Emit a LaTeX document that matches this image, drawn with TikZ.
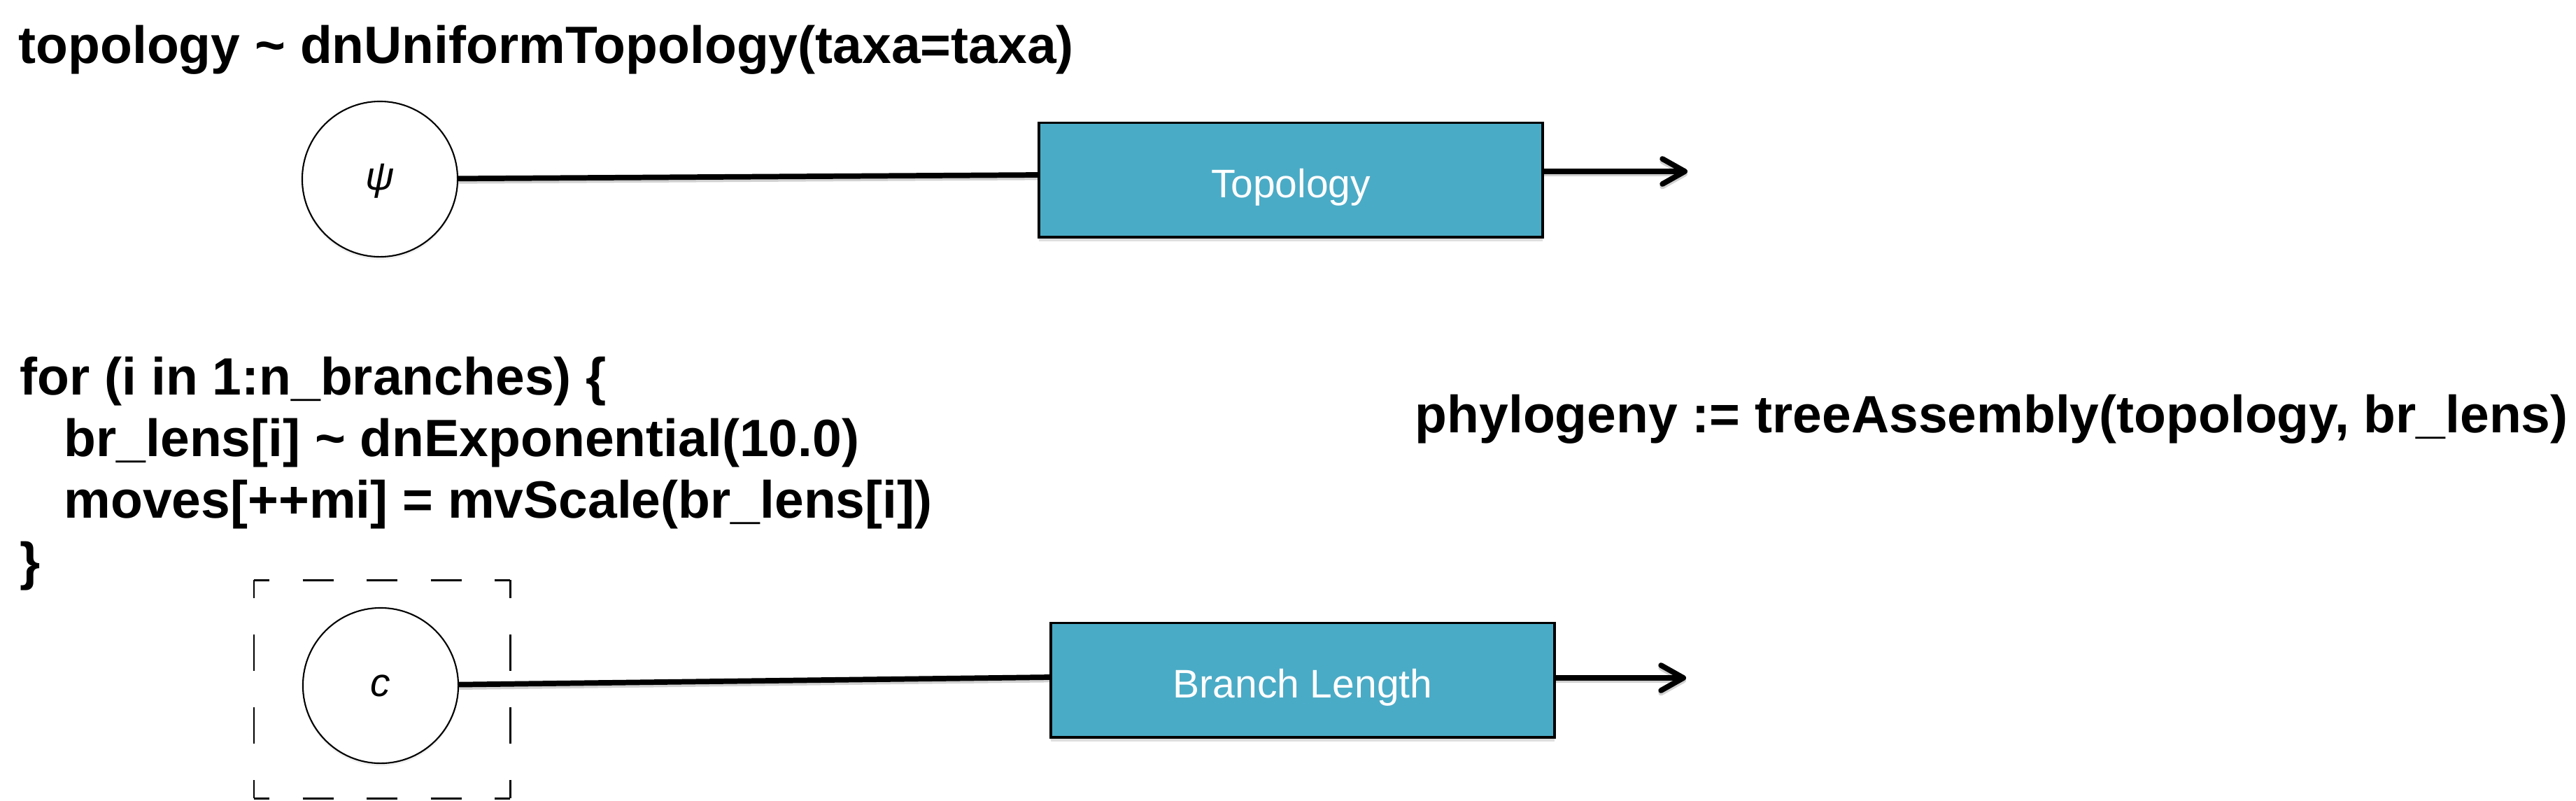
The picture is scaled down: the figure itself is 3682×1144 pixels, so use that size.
\documentclass[tikz,border=0pt]{standalone}
\usepackage{fontspec}
\setmainfont{Liberation Sans}
\usetikzlibrary{arrows.meta}
\usetikzlibrary{shadows}
\definecolor{boxblue}{RGB}{74,171,198}
\tikzstyle{codetext}=[anchor=base west,inner sep=0pt,font=\fontsize{21.34pt}{25pt}\selectfont\bfseries]
\tikzstyle{stochnode}=[circle,draw,fill=white,line width=0.6pt,minimum size=2.22cm,inner sep=0pt,text height=0.3cm,text depth=0cm,font=\fontsize{16.2pt}{19pt}\selectfont\itshape,drop shadow={opacity=0.12,shadow xshift=0cm,shadow yshift=-0.04cm}]
\tikzstyle{treebox}=[rectangle,draw,line width=1.1pt,fill=boxblue,text=white,minimum width=7.2cm,minimum height=1.63cm,inner sep=0pt,text height=0.5cm,text depth=0cm,font=\fontsize{16.2pt}{19pt}\selectfont,drop shadow={opacity=0.25,shadow xshift=0cm,shadow yshift=-0.06cm}]
\tikzstyle{edge}=[line width=2.2pt,preaction={draw=black!18,line width=2.2pt,transform canvas={yshift=-0.035cm}}]
\tikzstyle{outedge}=[edge,-{Straight Barb[length=3.2mm,width=3.6mm,round]}]
\tikzstyle{platehside}=[line width=0.85pt,dash pattern=on 0.44cm off 0.475cm,dash phase=0.22cm]
\tikzstyle{platevside}=[line width=0.85pt,dash pattern=on 0.52cm off 0.52cm,dash phase=0.26cm]
\newcommand{\codeline}[4]{% Syntax: {name}{x}{baseline y}{text}
\node[codetext] (#1) at (#2,#3) {#4};
}
\begin{document}
\begin{tikzpicture}[x=0.01cm,y=-0.01cm]
  \useasboundingbox (0,0) rectangle (3682,1144);
  % topology
  \codeline{topocode}{26}{90}{topology \textasciitilde{} dnUniformTopology(taxa=taxa)}
  \node[stochnode] (psi) at (543,256) {ψ};
  \node[treebox] (topo) at (1845,257) {Topology};
  \coordinate (topoout) at (2412,245);
  \draw[edge] (psi) -- ([yshift=0.07cm]topo.west);
  \draw[outedge] (topo.east |- topoout) -- (topoout);
  % branch lengths
  \codeline{forline}{28}{564}{for (i in 1:n\_branches) \{}
  \codeline{brline}{91}{652}{br\_lens[i] \textasciitilde{} dnExponential(10.0)}
  \codeline{mvline}{91}{740}{moves[++mi] = mvScale(br\_lens[i])}
  \codeline{closeline}{28}{828}{\}}
  \codeline{phylocode}{2022}{618}{phylogeny := treeAssembly(topology, br\_lens)}
  \node[stochnode] (brc) at (544,980) {c};
  \node[treebox] (brlen) at (1862,972) {Branch Length};
  \coordinate (brout) at (2410,969);
  \draw[edge] (brc) -- ([yshift=0.04cm]brlen.west);
  \draw[outedge] (brlen.east |- brout) -- (brout);
  % plate
  \coordinate (plateNW) at (363,829);
  \coordinate (plateSE) at (729,1141);
  \draw[platehside] (plateNW) -- (plateNW -| plateSE);
  \draw[platehside] (plateSE -| plateNW) -- (plateSE);
  \draw[platevside] (plateNW) -- (plateSE -| plateNW);
  \draw[platevside] (plateNW -| plateSE) -- (plateSE);
\end{tikzpicture}
\end{document}
